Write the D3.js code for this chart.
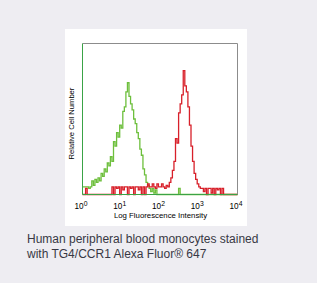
<!DOCTYPE html>
<html>
<head>
<meta charset="utf-8">
<style>
body {
  margin: 0;
  background-color: #eeedf2;
}
svg text {
  font-family: "Liberation Sans", Arial, sans-serif;
}
</style>
<script src="https://d3js.org/d3.v7.min.js"></script>
</head>
<body>
<svg id="chart" width="317" height="283"></svg>
<script>
// bins are 0.04 decade wide, starting at 10^0
var binStep = 0.04;
var decadeTicks = [0, 1, 2, 3, 4];

// isotype / unstained-like green histogram
var greenCounts = [
  5, 5, 5, 5, 4, 5, 9, 6, 10, 8,
  11, 9, 14, 12, 17, 15, 21, 19, 25, 22,
  35, 32, 41, 38, 46, 44, 55, 58, 68, 74,
  65, 60, 56, 50, 47, 41, 37, 30, 26, 17,
  13, 8, 6, 4, 2, 4, 1, 3, 0, 0,
  0, 0, 0, 0, 0, 0, 0, 0, 0, 0,
  0, 0, 4, 0, 0, 0, 0, 0, 0, 0,
  0, 0, 0, 0, 0, 0, 0, 0, 0, 0,
  0, 0, 0, 0, 0, 0, 0, 0, 0, 0,
  0, 0, 0, 0, 0, 0, 0, 0, 0, 0
];

// TG4/CCR1 stained red histogram
var redCounts = [
  0, 0, 4, 0, 0, 0, 0, 0, 0, 0,
  0, 0, 0, 0, 0, 0, 0, 0, 0, 5,
  0, 5, 4, 5, 0, 5, 3, 5, 5, 0,
  5, 4, 5, 0, 5, 5, 3, 5, 0, 5,
  0, 5, 7, 5, 5, 7, 5, 4, 7, 5,
  5, 7, 5, 4, 6, 5, 8, 11, 16, 22,
  37, 34, 54, 60, 66, 82, 72, 68, 58, 46,
  32, 22, 14, 10, 7, 5, 4, 4, 2, 4,
  0, 4, 4, 1, 4, 0, 4, 3, 4, 0,
  4, 0, 0, 0, 0, 0, 0, 0, 0, 0
];

var xLabel = "Log Fluorescence Intensity";
var yLabel = "Relative Cell Number";
var caption = ["Human peripheral blood monocytes stained",
               "with TG4/CCR1 Alexa Fluor\u00AE 647"];

var svg = d3.select("#chart");

// white panel behind the plot
svg.append("rect")
  .attr("x", 65).attr("y", 29)
  .attr("width", 182).attr("height", 197)
  .attr("fill", "white");

var pLeft = 82.5, pRight = 237.5, pTop = 43.5, pBottom = 194.5;

var x = d3.scaleLog().domain([1, 1e4]).range([pLeft, pRight]);
var y = d3.scaleLinear().domain([0, 100]).range([pBottom, pTop]);

function toPoints(counts) {
  var pts = counts.map(function(c, i) {
    return [Math.pow(10, i * binStep), c];
  });
  pts.push([1e4, counts[counts.length - 1]]);
  return pts;
}

var line = d3.line()
  .x(function(d) { return x(d[0]); })
  .y(function(d) { return y(d[1]); })
  .curve(d3.curveStepAfter);

svg.append("path")
  .datum(toPoints(greenCounts))
  .attr("fill", "none")
  .attr("stroke", "#6dbf3c")
  .attr("stroke-width", 1.3)
  .attr("d", line);

svg.append("path")
  .datum(toPoints(redCounts))
  .attr("fill", "none")
  .attr("stroke", "#d8202a")
  .attr("stroke-width", 1.3)
  .attr("d", line);

// frame: grey top/right, green left/bottom
svg.append("path")
  .attr("d", "M" + pLeft + "," + pTop + "H" + pRight + "V" + pBottom)
  .attr("fill", "none").attr("stroke", "#8c8c8c").attr("stroke-width", 1);
svg.append("path")
  .attr("d", "M" + pLeft + "," + pTop + "V" + pBottom + "H" + pRight)
  .attr("fill", "none").attr("stroke", "#3aa346").attr("stroke-width", 1);

// x axis ticks as 10^n
var xAxis = svg.append("g")
  .attr("transform", "translate(0," + pBottom + ")")
  .call(d3.axisBottom(x)
    .tickValues(decadeTicks.map(function(d) { return Math.pow(10, d); }))
    .tickSize(0)
    .tickFormat(""));
xAxis.select(".domain").remove();
xAxis.selectAll(".tick text").remove();
xAxis.selectAll(".tick").each(function(d, i) {
  var t = d3.select(this).append("text")
    .attr("y", 14)
    .attr("x", -2)
    .attr("text-anchor", "middle")
    .attr("fill", "#000")
    .style("font-size", "8.2px");
  t.append("tspan").text("10");
  t.append("tspan")
    .attr("dy", -3)
    .style("font-size", "6.8px")
    .text(decadeTicks[i]);
});

svg.append("text")
  .attr("x", (pLeft + pRight) / 2 + 0.5)
  .attr("y", 218)
  .attr("text-anchor", "middle")
  .attr("fill", "#000")
  .style("font-size", "7.8px")
  .text(xLabel);

svg.append("text")
  .attr("transform", "translate(73.5,123.5) rotate(-90)")
  .attr("text-anchor", "middle")
  .attr("fill", "#000")
  .style("font-size", "7.6px")
  .text(yLabel);

svg.selectAll(".caption")
  .data(caption)
  .enter().append("text")
  .attr("class", "caption")
  .attr("x", 27)
  .attr("y", function(d, i) { return 243 + i * 15; })
  .attr("fill", "#383844")
  .style("font-size", "12px")
  .text(function(d) { return d; });
</script>
</body>
</html>
